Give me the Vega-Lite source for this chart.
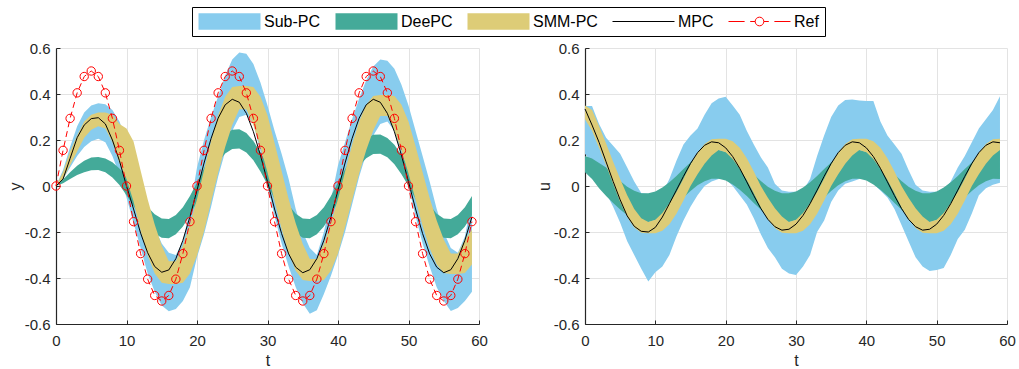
{
"$schema": "https://vega.github.io/schema/vega-lite/v6.json",
"padding": {"left": 7, "top": 6, "right": 5, "bottom": 2},
"background": "white",
"datasets": {"d": [
{"t":0,"ref":0,"mpc_y":0,"sub_y_lo":0,"sub_y_hi":0,"dee_y_lo":0,"dee_y_hi":0,"smm_y_lo":0,"smm_y_hi":0,"mpc_u":0.335,"sub_u_lo":0.14,"sub_u_hi":0.348,"dee_u_lo":0.06,"dee_u_hi":0.13,"smm_u_lo":0.29,"smm_u_hi":0.35},
{"t":1,"ref":0.155,"mpc_y":0.03,"sub_y_lo":0.03,"sub_y_hi":0.07,"dee_y_lo":0.012,"dee_y_hi":0.028,"smm_y_lo":0.03,"smm_y_hi":0.06,"mpc_u":0.265,"sub_u_lo":0.1,"sub_u_hi":0.348,"dee_u_lo":0.03,"dee_u_hi":0.12,"smm_u_lo":0.24,"smm_u_hi":0.33},
{"t":2,"ref":0.294,"mpc_y":0.12,"sub_y_lo":0.08,"sub_y_hi":0.17,"dee_y_lo":0.03,"dee_y_hi":0.06,"smm_y_lo":0.09,"smm_y_hi":0.15,"mpc_u":0.19,"sub_u_lo":0.04,"sub_u_hi":0.27,"dee_u_lo":-0.01,"dee_u_hi":0.1,"smm_u_lo":0.165,"smm_u_hi":0.26},
{"t":3,"ref":0.405,"mpc_y":0.21,"sub_y_lo":0.13,"sub_y_hi":0.26,"dee_y_lo":0.048,"dee_y_hi":0.088,"smm_y_lo":0.15,"smm_y_hi":0.22,"mpc_u":0.105,"sub_u_lo":-0.03,"sub_u_hi":0.21,"dee_u_lo":-0.044,"dee_u_hi":0.08,"smm_u_lo":0.09,"smm_u_hi":0.185},
{"t":4,"ref":0.476,"mpc_y":0.265,"sub_y_lo":0.17,"sub_y_hi":0.32,"dee_y_lo":0.06,"dee_y_hi":0.11,"smm_y_lo":0.21,"smm_y_hi":0.28,"mpc_u":0.02,"sub_u_lo":-0.09,"sub_u_hi":0.175,"dee_u_lo":-0.074,"dee_u_hi":0.05,"smm_u_lo":0.01,"smm_u_hi":0.105},
{"t":5,"ref":0.5,"mpc_y":0.293,"sub_y_lo":0.195,"sub_y_hi":0.35,"dee_y_lo":0.068,"dee_y_hi":0.124,"smm_y_lo":0.245,"smm_y_hi":0.31,"mpc_u":-0.06,"sub_u_lo":-0.16,"sub_u_hi":0.14,"dee_u_lo":-0.102,"dee_u_hi":0.022,"smm_u_lo":-0.07,"smm_u_hi":0.03},
{"t":6,"ref":0.476,"mpc_y":0.297,"sub_y_lo":0.205,"sub_y_hi":0.36,"dee_y_lo":0.07,"dee_y_hi":0.126,"smm_y_lo":0.26,"smm_y_hi":0.32,"mpc_u":-0.13,"sub_u_lo":-0.24,"sub_u_hi":0.08,"dee_u_lo":-0.127,"dee_u_hi":-0.003,"smm_u_lo":-0.135,"smm_u_hi":-0.04},
{"t":7,"ref":0.405,"mpc_y":0.27,"sub_y_lo":0.19,"sub_y_hi":0.355,"dee_y_lo":0.06,"dee_y_hi":0.12,"smm_y_lo":0.25,"smm_y_hi":0.32,"mpc_u":-0.175,"sub_u_lo":-0.3,"sub_u_hi":0.02,"dee_u_lo":-0.145,"dee_u_hi":-0.021,"smm_u_lo":-0.18,"smm_u_hi":-0.1},
{"t":8,"ref":0.294,"mpc_y":0.2,"sub_y_lo":0.13,"sub_y_hi":0.33,"dee_y_lo":0.037,"dee_y_hi":0.103,"smm_y_lo":0.19,"smm_y_hi":0.31,"mpc_u":-0.197,"sub_u_lo":-0.36,"sub_u_hi":-0.03,"dee_u_lo":-0.155,"dee_u_hi":-0.031,"smm_u_lo":-0.203,"smm_u_hi":-0.14},
{"t":9,"ref":0.155,"mpc_y":0.11,"sub_y_lo":0.05,"sub_y_hi":0.28,"dee_y_lo":0.004,"dee_y_hi":0.076,"smm_y_lo":0.1,"smm_y_hi":0.27,"mpc_u":-0.2,"sub_u_lo":-0.415,"sub_u_hi":-0.035,"dee_u_lo":-0.156,"dee_u_hi":-0.032,"smm_u_lo":-0.205,"smm_u_hi":-0.157},
{"t":10,"ref":0,"mpc_y":0,"sub_y_lo":-0.05,"sub_y_hi":0.2,"dee_y_lo":-0.04,"dee_y_hi":0.04,"smm_y_lo":0.03,"smm_y_hi":0.25,"mpc_u":-0.18,"sub_u_lo":-0.375,"sub_u_hi":-0.035,"dee_u_lo":-0.148,"dee_u_hi":-0.024,"smm_u_lo":-0.205,"smm_u_hi":-0.147},
{"t":11,"ref":-0.155,"mpc_y":-0.1,"sub_y_lo":-0.16,"sub_y_hi":0.11,"dee_y_lo":-0.087,"dee_y_hi":-0.003,"smm_y_lo":-0.067,"smm_y_hi":0.193,"mpc_u":-0.135,"sub_u_lo":-0.35,"sub_u_hi":-0.03,"dee_u_lo":-0.131,"dee_u_hi":-0.007,"smm_u_lo":-0.195,"smm_u_hi":-0.117},
{"t":12,"ref":-0.294,"mpc_y":-0.205,"sub_y_lo":-0.27,"sub_y_hi":0.02,"dee_y_lo":-0.132,"dee_y_hi":-0.048,"smm_y_lo":-0.193,"smm_y_hi":0.067,"mpc_u":-0.077,"sub_u_lo":-0.3,"sub_u_hi":0.03,"dee_u_lo":-0.108,"dee_u_hi":0.016,"smm_u_lo":-0.166,"smm_u_hi":-0.075},
{"t":13,"ref":-0.405,"mpc_y":-0.29,"sub_y_lo":-0.38,"sub_y_hi":-0.08,"dee_y_lo":-0.175,"dee_y_hi":-0.091,"smm_y_lo":-0.302,"smm_y_hi":-0.058,"mpc_u":-0.018,"sub_u_lo":-0.22,"sub_u_hi":0.11,"dee_u_lo":-0.08,"dee_u_hi":0.044,"smm_u_lo":-0.121,"smm_u_hi":-0.026},
{"t":14,"ref":-0.476,"mpc_y":-0.35,"sub_y_lo":-0.46,"sub_y_hi":-0.18,"dee_y_lo":-0.207,"dee_y_hi":-0.123,"smm_y_lo":-0.38,"smm_y_hi":-0.167,"mpc_u":0.042,"sub_u_lo":-0.15,"sub_u_hi":0.18,"dee_u_lo":-0.05,"dee_u_hi":0.074,"smm_u_lo":-0.063,"smm_u_hi":0.032},
{"t":15,"ref":-0.5,"mpc_y":-0.375,"sub_y_lo":-0.52,"sub_y_hi":-0.25,"dee_y_lo":-0.225,"dee_y_hi":-0.141,"smm_y_lo":-0.421,"smm_y_hi":-0.26,"mpc_u":0.098,"sub_u_lo":-0.09,"sub_u_hi":0.22,"dee_u_lo":-0.022,"dee_u_hi":0.102,"smm_u_lo":0,"smm_u_hi":0.093},
{"t":16,"ref":-0.476,"mpc_y":-0.365,"sub_y_lo":-0.545,"sub_y_hi":-0.29,"dee_y_lo":-0.227,"dee_y_hi":-0.143,"smm_y_lo":-0.426,"smm_y_hi":-0.327,"mpc_u":0.145,"sub_u_lo":-0.04,"sub_u_hi":0.25,"dee_u_lo":0.003,"dee_u_hi":0.127,"smm_u_lo":0.051,"smm_u_hi":0.145},
{"t":17,"ref":-0.405,"mpc_y":-0.316,"sub_y_lo":-0.535,"sub_y_hi":-0.3,"dee_y_lo":-0.21,"dee_y_hi":-0.126,"smm_y_lo":-0.426,"smm_y_hi":-0.327,"mpc_u":0.177,"sub_u_lo":0,"sub_u_hi":0.31,"dee_u_lo":0.021,"dee_u_hi":0.145,"smm_u_lo":0.097,"smm_u_hi":0.183},
{"t":18,"ref":-0.294,"mpc_y":-0.236,"sub_y_lo":-0.5,"sub_y_hi":-0.24,"dee_y_lo":-0.176,"dee_y_hi":-0.092,"smm_y_lo":-0.421,"smm_y_hi":-0.26,"mpc_u":0.192,"sub_u_lo":0.02,"sub_u_hi":0.36,"dee_u_lo":0.031,"dee_u_hi":0.155,"smm_u_lo":0.133,"smm_u_hi":0.203},
{"t":19,"ref":-0.155,"mpc_y":-0.134,"sub_y_lo":-0.44,"sub_y_hi":-0.1,"dee_y_lo":-0.127,"dee_y_hi":-0.043,"smm_y_lo":-0.38,"smm_y_hi":-0.167,"mpc_u":0.188,"sub_u_lo":0.03,"sub_u_hi":0.38,"dee_u_lo":0.032,"dee_u_hi":0.156,"smm_u_lo":0.157,"smm_u_hi":0.205},
{"t":20,"ref":0,"mpc_y":-0.018,"sub_y_lo":-0.31,"sub_y_hi":0.08,"dee_y_lo":-0.069,"dee_y_hi":0.015,"smm_y_lo":-0.302,"smm_y_hi":-0.058,"mpc_u":0.166,"sub_u_lo":0.03,"sub_u_hi":0.388,"dee_u_lo":0.024,"dee_u_hi":0.148,"smm_u_lo":0.147,"smm_u_hi":0.205},
{"t":21,"ref":0.155,"mpc_y":0.1,"sub_y_lo":-0.21,"sub_y_hi":0.2,"dee_y_lo":-0.007,"dee_y_hi":0.077,"smm_y_lo":-0.197,"smm_y_hi":0.068,"mpc_u":0.128,"sub_u_lo":0,"sub_u_hi":0.35,"dee_u_lo":0.007,"dee_u_hi":0.131,"smm_u_lo":0.117,"smm_u_hi":0.195},
{"t":22,"ref":0.294,"mpc_y":0.207,"sub_y_lo":-0.09,"sub_y_hi":0.3,"dee_y_lo":0.052,"dee_y_hi":0.136,"smm_y_lo":-0.068,"smm_y_hi":0.197,"mpc_u":0.077,"sub_u_lo":-0.04,"sub_u_hi":0.31,"dee_u_lo":-0.016,"dee_u_hi":0.108,"smm_u_lo":0.075,"smm_u_hi":0.166},
{"t":23,"ref":0.405,"mpc_y":0.295,"sub_y_lo":0.04,"sub_y_hi":0.39,"dee_y_lo":0.103,"dee_y_hi":0.187,"smm_y_lo":0.059,"smm_y_hi":0.308,"mpc_u":0.018,"sub_u_lo":-0.08,"sub_u_hi":0.24,"dee_u_lo":-0.044,"dee_u_hi":0.08,"smm_u_lo":0.026,"smm_u_hi":0.121},
{"t":24,"ref":0.476,"mpc_y":0.353,"sub_y_lo":0.15,"sub_y_hi":0.48,"dee_y_lo":0.141,"dee_y_hi":0.225,"smm_y_lo":0.17,"smm_y_hi":0.388,"mpc_u":-0.042,"sub_u_lo":-0.14,"sub_u_hi":0.18,"dee_u_lo":-0.074,"dee_u_hi":0.05,"smm_u_lo":-0.032,"smm_u_hi":0.063},
{"t":25,"ref":0.5,"mpc_y":0.377,"sub_y_lo":0.24,"sub_y_hi":0.55,"dee_y_lo":0.161,"dee_y_hi":0.245,"smm_y_lo":0.265,"smm_y_hi":0.43,"mpc_u":-0.098,"sub_u_lo":-0.21,"sub_u_hi":0.125,"dee_u_lo":-0.102,"dee_u_hi":0.022,"smm_u_lo":-0.093,"smm_u_hi":0},
{"t":26,"ref":0.476,"mpc_y":0.364,"sub_y_lo":0.3,"sub_y_hi":0.58,"dee_y_lo":0.163,"dee_y_hi":0.247,"smm_y_lo":0.334,"smm_y_hi":0.435,"mpc_u":-0.145,"sub_u_lo":-0.27,"sub_u_hi":0.08,"dee_u_lo":-0.127,"dee_u_hi":-0.003,"smm_u_lo":-0.145,"smm_u_hi":-0.051},
{"t":27,"ref":0.405,"mpc_y":0.316,"sub_y_lo":0.31,"sub_y_hi":0.575,"dee_y_lo":0.146,"dee_y_hi":0.23,"smm_y_lo":0.334,"smm_y_hi":0.435,"mpc_u":-0.177,"sub_u_lo":-0.31,"sub_u_hi":0.01,"dee_u_lo":-0.145,"dee_u_hi":-0.021,"smm_u_lo":-0.183,"smm_u_hi":-0.097},
{"t":28,"ref":0.294,"mpc_y":0.236,"sub_y_lo":0.27,"sub_y_hi":0.53,"dee_y_lo":0.112,"dee_y_hi":0.196,"smm_y_lo":0.265,"smm_y_hi":0.43,"mpc_u":-0.192,"sub_u_lo":-0.36,"sub_u_hi":-0.02,"dee_u_lo":-0.155,"dee_u_hi":-0.031,"smm_u_lo":-0.203,"smm_u_hi":-0.133},
{"t":29,"ref":0.155,"mpc_y":0.134,"sub_y_lo":0.15,"sub_y_hi":0.45,"dee_y_lo":0.063,"dee_y_hi":0.147,"smm_y_lo":0.17,"smm_y_hi":0.388,"mpc_u":-0.188,"sub_u_lo":-0.38,"sub_u_hi":-0.025,"dee_u_lo":-0.156,"dee_u_hi":-0.032,"smm_u_lo":-0.205,"smm_u_hi":-0.157},
{"t":30,"ref":0,"mpc_y":0.018,"sub_y_lo":0,"sub_y_hi":0.35,"dee_y_lo":0.005,"dee_y_hi":0.089,"smm_y_lo":0.059,"smm_y_hi":0.308,"mpc_u":-0.166,"sub_u_lo":-0.387,"sub_u_hi":-0.025,"dee_u_lo":-0.148,"dee_u_hi":-0.024,"smm_u_lo":-0.205,"smm_u_hi":-0.147},
{"t":31,"ref":-0.155,"mpc_y":-0.1,"sub_y_lo":-0.13,"sub_y_hi":0.24,"dee_y_lo":-0.057,"dee_y_hi":0.027,"smm_y_lo":-0.065,"smm_y_hi":0.187,"mpc_u":-0.128,"sub_u_lo":-0.35,"sub_u_hi":-0.02,"dee_u_lo":-0.131,"dee_u_hi":-0.007,"smm_u_lo":-0.195,"smm_u_hi":-0.117},
{"t":32,"ref":-0.294,"mpc_y":-0.207,"sub_y_lo":-0.25,"sub_y_hi":0.14,"dee_y_lo":-0.116,"dee_y_hi":-0.032,"smm_y_lo":-0.187,"smm_y_hi":0.065,"mpc_u":-0.077,"sub_u_lo":-0.3,"sub_u_hi":0.03,"dee_u_lo":-0.108,"dee_u_hi":0.016,"smm_u_lo":-0.166,"smm_u_hi":-0.075},
{"t":33,"ref":-0.405,"mpc_y":-0.295,"sub_y_lo":-0.35,"sub_y_hi":0.03,"dee_y_lo":-0.167,"dee_y_hi":-0.083,"smm_y_lo":-0.293,"smm_y_hi":-0.056,"mpc_u":-0.018,"sub_u_lo":-0.2,"sub_u_hi":0.13,"dee_u_lo":-0.08,"dee_u_hi":0.044,"smm_u_lo":-0.121,"smm_u_hi":-0.026},
{"t":34,"ref":-0.476,"mpc_y":-0.353,"sub_y_lo":-0.44,"sub_y_hi":-0.1,"dee_y_lo":-0.205,"dee_y_hi":-0.121,"smm_y_lo":-0.369,"smm_y_hi":-0.162,"mpc_u":0.042,"sub_u_lo":-0.15,"sub_u_hi":0.22,"dee_u_lo":-0.05,"dee_u_hi":0.074,"smm_u_lo":-0.063,"smm_u_hi":0.032},
{"t":35,"ref":-0.5,"mpc_y":-0.377,"sub_y_lo":-0.51,"sub_y_hi":-0.2,"dee_y_lo":-0.225,"dee_y_hi":-0.141,"smm_y_lo":-0.409,"smm_y_hi":-0.252,"mpc_u":0.098,"sub_u_lo":-0.07,"sub_u_hi":0.3,"dee_u_lo":-0.022,"dee_u_hi":0.102,"smm_u_lo":0,"smm_u_hi":0.093},
{"t":36,"ref":-0.476,"mpc_y":-0.364,"sub_y_lo":-0.555,"sub_y_hi":-0.27,"dee_y_lo":-0.227,"dee_y_hi":-0.143,"smm_y_lo":-0.413,"smm_y_hi":-0.317,"mpc_u":0.145,"sub_u_lo":-0.02,"sub_u_hi":0.35,"dee_u_lo":0.003,"dee_u_hi":0.127,"smm_u_lo":0.051,"smm_u_hi":0.145},
{"t":37,"ref":-0.405,"mpc_y":-0.316,"sub_y_lo":-0.54,"sub_y_hi":-0.3,"dee_y_lo":-0.21,"dee_y_hi":-0.126,"smm_y_lo":-0.413,"smm_y_hi":-0.317,"mpc_u":0.177,"sub_u_lo":0.01,"sub_u_hi":0.374,"dee_u_lo":0.021,"dee_u_hi":0.145,"smm_u_lo":0.097,"smm_u_hi":0.183},
{"t":38,"ref":-0.294,"mpc_y":-0.236,"sub_y_lo":-0.47,"sub_y_hi":-0.2,"dee_y_lo":-0.176,"dee_y_hi":-0.092,"smm_y_lo":-0.409,"smm_y_hi":-0.252,"mpc_u":0.192,"sub_u_lo":0.02,"sub_u_hi":0.376,"dee_u_lo":0.031,"dee_u_hi":0.155,"smm_u_lo":0.133,"smm_u_hi":0.203},
{"t":39,"ref":-0.155,"mpc_y":-0.134,"sub_y_lo":-0.39,"sub_y_hi":-0.06,"dee_y_lo":-0.127,"dee_y_hi":-0.043,"smm_y_lo":-0.369,"smm_y_hi":-0.162,"mpc_u":0.188,"sub_u_lo":0.03,"sub_u_hi":0.372,"dee_u_lo":0.032,"dee_u_hi":0.156,"smm_u_lo":0.157,"smm_u_hi":0.205},
{"t":40,"ref":0,"mpc_y":-0.018,"sub_y_lo":-0.3,"sub_y_hi":0.09,"dee_y_lo":-0.069,"dee_y_hi":0.015,"smm_y_lo":-0.293,"smm_y_hi":-0.056,"mpc_u":0.166,"sub_u_lo":0.03,"sub_u_hi":0.37,"dee_u_lo":0.024,"dee_u_hi":0.148,"smm_u_lo":0.147,"smm_u_hi":0.205},
{"t":41,"ref":0.155,"mpc_y":0.1,"sub_y_lo":-0.2,"sub_y_hi":0.19,"dee_y_lo":-0.011,"dee_y_hi":0.073,"smm_y_lo":-0.179,"smm_y_hi":0.062,"mpc_u":0.128,"sub_u_lo":0.01,"sub_u_hi":0.37,"dee_u_lo":0.007,"dee_u_hi":0.131,"smm_u_lo":0.117,"smm_u_hi":0.195},
{"t":42,"ref":0.294,"mpc_y":0.207,"sub_y_lo":-0.08,"sub_y_hi":0.29,"dee_y_lo":0.042,"dee_y_hi":0.126,"smm_y_lo":-0.062,"smm_y_hi":0.179,"mpc_u":0.077,"sub_u_lo":-0.02,"sub_u_hi":0.28,"dee_u_lo":-0.016,"dee_u_hi":0.108,"smm_u_lo":0.075,"smm_u_hi":0.166},
{"t":43,"ref":0.405,"mpc_y":0.295,"sub_y_lo":0.04,"sub_y_hi":0.38,"dee_y_lo":0.087,"dee_y_hi":0.171,"smm_y_lo":0.054,"smm_y_hi":0.28,"mpc_u":0.018,"sub_u_lo":-0.05,"sub_u_hi":0.22,"dee_u_lo":-0.044,"dee_u_hi":0.08,"smm_u_lo":0.026,"smm_u_hi":0.121},
{"t":44,"ref":0.476,"mpc_y":0.353,"sub_y_lo":0.14,"sub_y_hi":0.46,"dee_y_lo":0.121,"dee_y_hi":0.205,"smm_y_lo":0.155,"smm_y_hi":0.353,"mpc_u":-0.042,"sub_u_lo":-0.1,"sub_u_hi":0.18,"dee_u_lo":-0.074,"dee_u_hi":0.05,"smm_u_lo":-0.032,"smm_u_hi":0.063},
{"t":45,"ref":0.5,"mpc_y":0.377,"sub_y_lo":0.22,"sub_y_hi":0.52,"dee_y_lo":0.139,"dee_y_hi":0.223,"smm_y_lo":0.241,"smm_y_hi":0.391,"mpc_u":-0.098,"sub_u_lo":-0.17,"sub_u_hi":0.14,"dee_u_lo":-0.102,"dee_u_hi":0.022,"smm_u_lo":-0.093,"smm_u_hi":0},
{"t":46,"ref":0.476,"mpc_y":0.364,"sub_y_lo":0.27,"sub_y_hi":0.55,"dee_y_lo":0.14,"dee_y_hi":0.224,"smm_y_lo":0.304,"smm_y_hi":0.396,"mpc_u":-0.145,"sub_u_lo":-0.24,"sub_u_hi":0.07,"dee_u_lo":-0.127,"dee_u_hi":-0.003,"smm_u_lo":-0.145,"smm_u_hi":-0.051},
{"t":47,"ref":0.405,"mpc_y":0.316,"sub_y_lo":0.28,"sub_y_hi":0.545,"dee_y_lo":0.125,"dee_y_hi":0.209,"smm_y_lo":0.304,"smm_y_hi":0.396,"mpc_u":-0.177,"sub_u_lo":-0.31,"sub_u_hi":0.005,"dee_u_lo":-0.145,"dee_u_hi":-0.021,"smm_u_lo":-0.183,"smm_u_hi":-0.097},
{"t":48,"ref":0.294,"mpc_y":0.236,"sub_y_lo":0.24,"sub_y_hi":0.51,"dee_y_lo":0.095,"dee_y_hi":0.179,"smm_y_lo":0.241,"smm_y_hi":0.391,"mpc_u":-0.192,"sub_u_lo":-0.35,"sub_u_hi":-0.02,"dee_u_lo":-0.155,"dee_u_hi":-0.031,"smm_u_lo":-0.203,"smm_u_hi":-0.133},
{"t":49,"ref":0.155,"mpc_y":0.134,"sub_y_lo":0.13,"sub_y_hi":0.44,"dee_y_lo":0.051,"dee_y_hi":0.135,"smm_y_lo":0.155,"smm_y_hi":0.353,"mpc_u":-0.188,"sub_u_lo":-0.37,"sub_u_hi":-0.025,"dee_u_lo":-0.156,"dee_u_hi":-0.032,"smm_u_lo":-0.205,"smm_u_hi":-0.157},
{"t":50,"ref":0,"mpc_y":0.018,"sub_y_lo":0,"sub_y_hi":0.35,"dee_y_lo":0,"dee_y_hi":0.084,"smm_y_lo":0.054,"smm_y_hi":0.28,"mpc_u":-0.166,"sub_u_lo":-0.365,"sub_u_hi":-0.025,"dee_u_lo":-0.148,"dee_u_hi":-0.024,"smm_u_lo":-0.205,"smm_u_hi":-0.147},
{"t":51,"ref":-0.155,"mpc_y":-0.1,"sub_y_lo":-0.13,"sub_y_hi":0.24,"dee_y_lo":-0.057,"dee_y_hi":0.027,"smm_y_lo":-0.06,"smm_y_hi":0.173,"mpc_u":-0.128,"sub_u_lo":-0.357,"sub_u_hi":-0.02,"dee_u_lo":-0.131,"dee_u_hi":-0.007,"smm_u_lo":-0.195,"smm_u_hi":-0.117},
{"t":52,"ref":-0.294,"mpc_y":-0.207,"sub_y_lo":-0.25,"sub_y_hi":0.13,"dee_y_lo":-0.116,"dee_y_hi":-0.032,"smm_y_lo":-0.173,"smm_y_hi":0.06,"mpc_u":-0.077,"sub_u_lo":-0.3,"sub_u_hi":0.02,"dee_u_lo":-0.108,"dee_u_hi":0.016,"smm_u_lo":-0.166,"smm_u_hi":-0.075},
{"t":53,"ref":-0.405,"mpc_y":-0.295,"sub_y_lo":-0.35,"sub_y_hi":0.02,"dee_y_lo":-0.167,"dee_y_hi":-0.083,"smm_y_lo":-0.271,"smm_y_hi":-0.052,"mpc_u":-0.018,"sub_u_lo":-0.23,"sub_u_hi":0.08,"dee_u_lo":-0.08,"dee_u_hi":0.044,"smm_u_lo":-0.121,"smm_u_hi":-0.026},
{"t":54,"ref":-0.476,"mpc_y":-0.353,"sub_y_lo":-0.44,"sub_y_hi":-0.1,"dee_y_lo":-0.205,"dee_y_hi":-0.121,"smm_y_lo":-0.341,"smm_y_hi":-0.15,"mpc_u":0.042,"sub_u_lo":-0.19,"sub_u_hi":0.13,"dee_u_lo":-0.05,"dee_u_hi":0.074,"smm_u_lo":-0.063,"smm_u_hi":0.032},
{"t":55,"ref":-0.5,"mpc_y":-0.377,"sub_y_lo":-0.5,"sub_y_hi":-0.2,"dee_y_lo":-0.225,"dee_y_hi":-0.141,"smm_y_lo":-0.378,"smm_y_hi":-0.233,"mpc_u":0.098,"sub_u_lo":-0.12,"sub_u_hi":0.19,"dee_u_lo":-0.022,"dee_u_hi":0.102,"smm_u_lo":0,"smm_u_hi":0.093},
{"t":56,"ref":-0.476,"mpc_y":-0.364,"sub_y_lo":-0.543,"sub_y_hi":-0.27,"dee_y_lo":-0.227,"dee_y_hi":-0.143,"smm_y_lo":-0.383,"smm_y_hi":-0.294,"mpc_u":0.145,"sub_u_lo":-0.04,"sub_u_hi":0.25,"dee_u_lo":0.003,"dee_u_hi":0.127,"smm_u_lo":0.051,"smm_u_hi":0.145},
{"t":57,"ref":-0.405,"mpc_y":-0.316,"sub_y_lo":-0.53,"sub_y_hi":-0.29,"dee_y_lo":-0.21,"dee_y_hi":-0.126,"smm_y_lo":-0.383,"smm_y_hi":-0.294,"mpc_u":0.177,"sub_u_lo":-0.01,"sub_u_hi":0.29,"dee_u_lo":0.021,"dee_u_hi":0.145,"smm_u_lo":0.097,"smm_u_hi":0.183},
{"t":58,"ref":-0.294,"mpc_y":-0.236,"sub_y_lo":-0.5,"sub_y_hi":-0.22,"dee_y_lo":-0.176,"dee_y_hi":-0.092,"smm_y_lo":-0.378,"smm_y_hi":-0.233,"mpc_u":0.192,"sub_u_lo":0.005,"sub_u_hi":0.33,"dee_u_lo":0.031,"dee_u_hi":0.16,"smm_u_lo":0.133,"smm_u_hi":0.203},
{"t":59,"ref":-0.155,"mpc_y":-0.134,"sub_y_lo":-0.46,"sub_y_hi":-0.06,"dee_y_lo":-0.127,"dee_y_hi":-0.043,"smm_y_lo":-0.341,"smm_y_hi":-0.19,"mpc_u":0.188,"sub_u_lo":0.014,"sub_u_hi":0.39,"dee_u_lo":0.03,"dee_u_hi":0.17,"smm_u_lo":0.157,"smm_u_hi":0.205}
]},
"data": {"name": "d"},
"spacing": 106,
"bounds": "flush",
"resolve": {"scale": {"fill": "shared", "stroke": "shared", "shape": "shared"}, "legend": {"fill": "shared", "stroke": "shared", "shape": "shared"}},
"hconcat": [
{
"width": 423, "height": 276,
"layer": [
{"mark": {"type": "area", "opacity": 1},
 "encoding": {
  "x": {"field": "t", "type": "quantitative", "scale": {"domain": [0, 60], "nice": false, "zero": false},
        "axis": {"values": [0,10,20,30,40,50,60], "title": "t", "labelPadding": 13, "titlePadding": 4, "labelFlush": false, "grid": true}},
  "y": {"field": "sub_y_lo", "type": "quantitative", "scale": {"domain": [-0.6, 0.6], "nice": false, "zero": false},
        "axis": {"values": [-0.6,-0.4,-0.2,0,0.2,0.4,0.6], "title": "y", "labelExpr": "'' + round(datum.value*10)/10", "labelPadding": 10, "titlePadding": 1, "labelFlush": false, "grid": true}},
  "y2": {"field": "sub_y_hi"},
  "fill": {"datum": "Sub-PC", "type": "nominal",
    "scale": {"domain": ["Sub-PC","DeePC","SMM-PC","MPC","Ref"], "range": ["#88CCEE","#44AA99","#DDCC77","transparent","transparent"]},
    "legend": {"orient": "none", "legendX": 136, "legendY": -41, "direction": "horizontal", "columns": 5, "title": null,
      "symbolSize": 3844, "symbolStrokeWidth": 1, "symbolOpacity": 1, "clipHeight": 17,
      "labelFont": "Liberation Sans", "labelFontSize": 16, "labelColor": "#000000",
      "labelOffset": 3, "columnPadding": 14, "padding": 6, "strokeColor": "#000000", "fillColor": "#ffffff", "labelLimit": 0}}
 }},
{"mark": {"type": "area", "opacity": 1},
 "encoding": {"x": {"field": "t", "type": "quantitative"}, "y": {"field": "dee_y_lo", "type": "quantitative"}, "y2": {"field": "dee_y_hi"}, "fill": {"datum": "DeePC", "type": "nominal"}}},
{"mark": {"type": "area", "opacity": 1},
 "encoding": {"x": {"field": "t", "type": "quantitative"}, "y": {"field": "smm_y_lo", "type": "quantitative"}, "y2": {"field": "smm_y_hi"}, "fill": {"datum": "SMM-PC", "type": "nominal"}}},
{"mark": {"type": "line", "strokeWidth": 1},
 "encoding": {"x": {"field": "t", "type": "quantitative"}, "y": {"field": "mpc_y", "type": "quantitative"},
   "stroke": {"datum": "MPC", "type": "nominal",
     "scale": {"domain": ["Sub-PC","DeePC","SMM-PC","MPC","Ref"], "range": ["transparent","transparent","transparent","#000000","#FF0000"]}}}},
{"mark": {"type": "line", "strokeWidth": 1, "strokeDash": [6, 4]},
 "encoding": {"x": {"field": "t", "type": "quantitative"}, "y": {"field": "ref", "type": "quantitative"}, "stroke": {"datum": "Ref", "type": "nominal"}}},
{"mark": {"type": "point", "filled": false, "size": 70, "strokeWidth": 1, "opacity": 1},
 "encoding": {"x": {"field": "t", "type": "quantitative"}, "y": {"field": "ref", "type": "quantitative"}, "stroke": {"datum": "Ref", "type": "nominal"}}},
{"transform": [{"filter": "false"}],
 "mark": {"type": "point", "opacity": 1, "filled": false},
 "encoding": {"x": {"field": "t", "type": "quantitative"}, "y": {"field": "ref", "type": "quantitative"},
   "shape": {"datum": "MPC", "type": "nominal",
     "scale": {"domain": ["Sub-PC","DeePC","SMM-PC","MPC","Ref"],
               "range": ["M-1,-0.27H1V0.27H-1Z","M-1,-0.27H1V0.27H-1Z","M-1,-0.27H1V0.27H-1Z","M-1,0H1","M-1,0H-0.48M-0.3,0H-0.14M0.14,0H0.3M0.48,0H1M-0.14,0A0.14,0.14 0 1,0 0.14,0A0.14,0.14 0 1,0 -0.14,0"]}}}}
]
},
{
"width": 422, "height": 276,
"layer": [
{"mark": {"type": "area", "opacity": 1},
 "encoding": {
  "x": {"field": "t", "type": "quantitative", "scale": {"domain": [0, 60], "nice": false, "zero": false},
        "axis": {"values": [0,10,20,30,40,50,60], "title": "t", "labelPadding": 13, "titlePadding": 4, "labelFlush": false, "grid": true}},
  "y": {"field": "sub_u_lo", "type": "quantitative", "scale": {"domain": [-0.6, 0.6], "nice": false, "zero": false},
        "axis": {"values": [-0.6,-0.4,-0.2,0,0.2,0.4,0.6], "title": "u", "labelExpr": "'' + round(datum.value*10)/10", "labelPadding": 10, "titlePadding": 1, "labelFlush": false, "grid": true}},
  "y2": {"field": "sub_u_hi"},
  "fill": {"datum": "Sub-PC", "type": "nominal"}
 }},
{"mark": {"type": "area", "opacity": 1},
 "encoding": {"x": {"field": "t", "type": "quantitative"}, "y": {"field": "dee_u_lo", "type": "quantitative"}, "y2": {"field": "dee_u_hi"}, "fill": {"datum": "DeePC", "type": "nominal"}}},
{"mark": {"type": "area", "opacity": 1},
 "encoding": {"x": {"field": "t", "type": "quantitative"}, "y": {"field": "smm_u_lo", "type": "quantitative"}, "y2": {"field": "smm_u_hi"}, "fill": {"datum": "SMM-PC", "type": "nominal"}}},
{"mark": {"type": "line", "strokeWidth": 1},
 "encoding": {"x": {"field": "t", "type": "quantitative"}, "y": {"field": "mpc_u", "type": "quantitative"}, "stroke": {"datum": "MPC", "type": "nominal"}}}
]
}
],
"config": {
  "view": {"stroke": null},
  "font": "Liberation Sans",
  "axis": {"labelFont": "Liberation Sans", "labelFontSize": 15, "labelColor": "#262626", "titleFont": "Liberation Sans", "titleFontSize": 16, "titleFontWeight": "normal", "titleColor": "#262626",
           "domainColor": "#262626", "domainWidth": 1.2, "tickColor": "#262626", "tickSize": -4, "tickWidth": 1, "gridColor": "#e3e3e3", "gridWidth": 1, "gridOpacity": 1, "labelOverlap": false}
}
}
